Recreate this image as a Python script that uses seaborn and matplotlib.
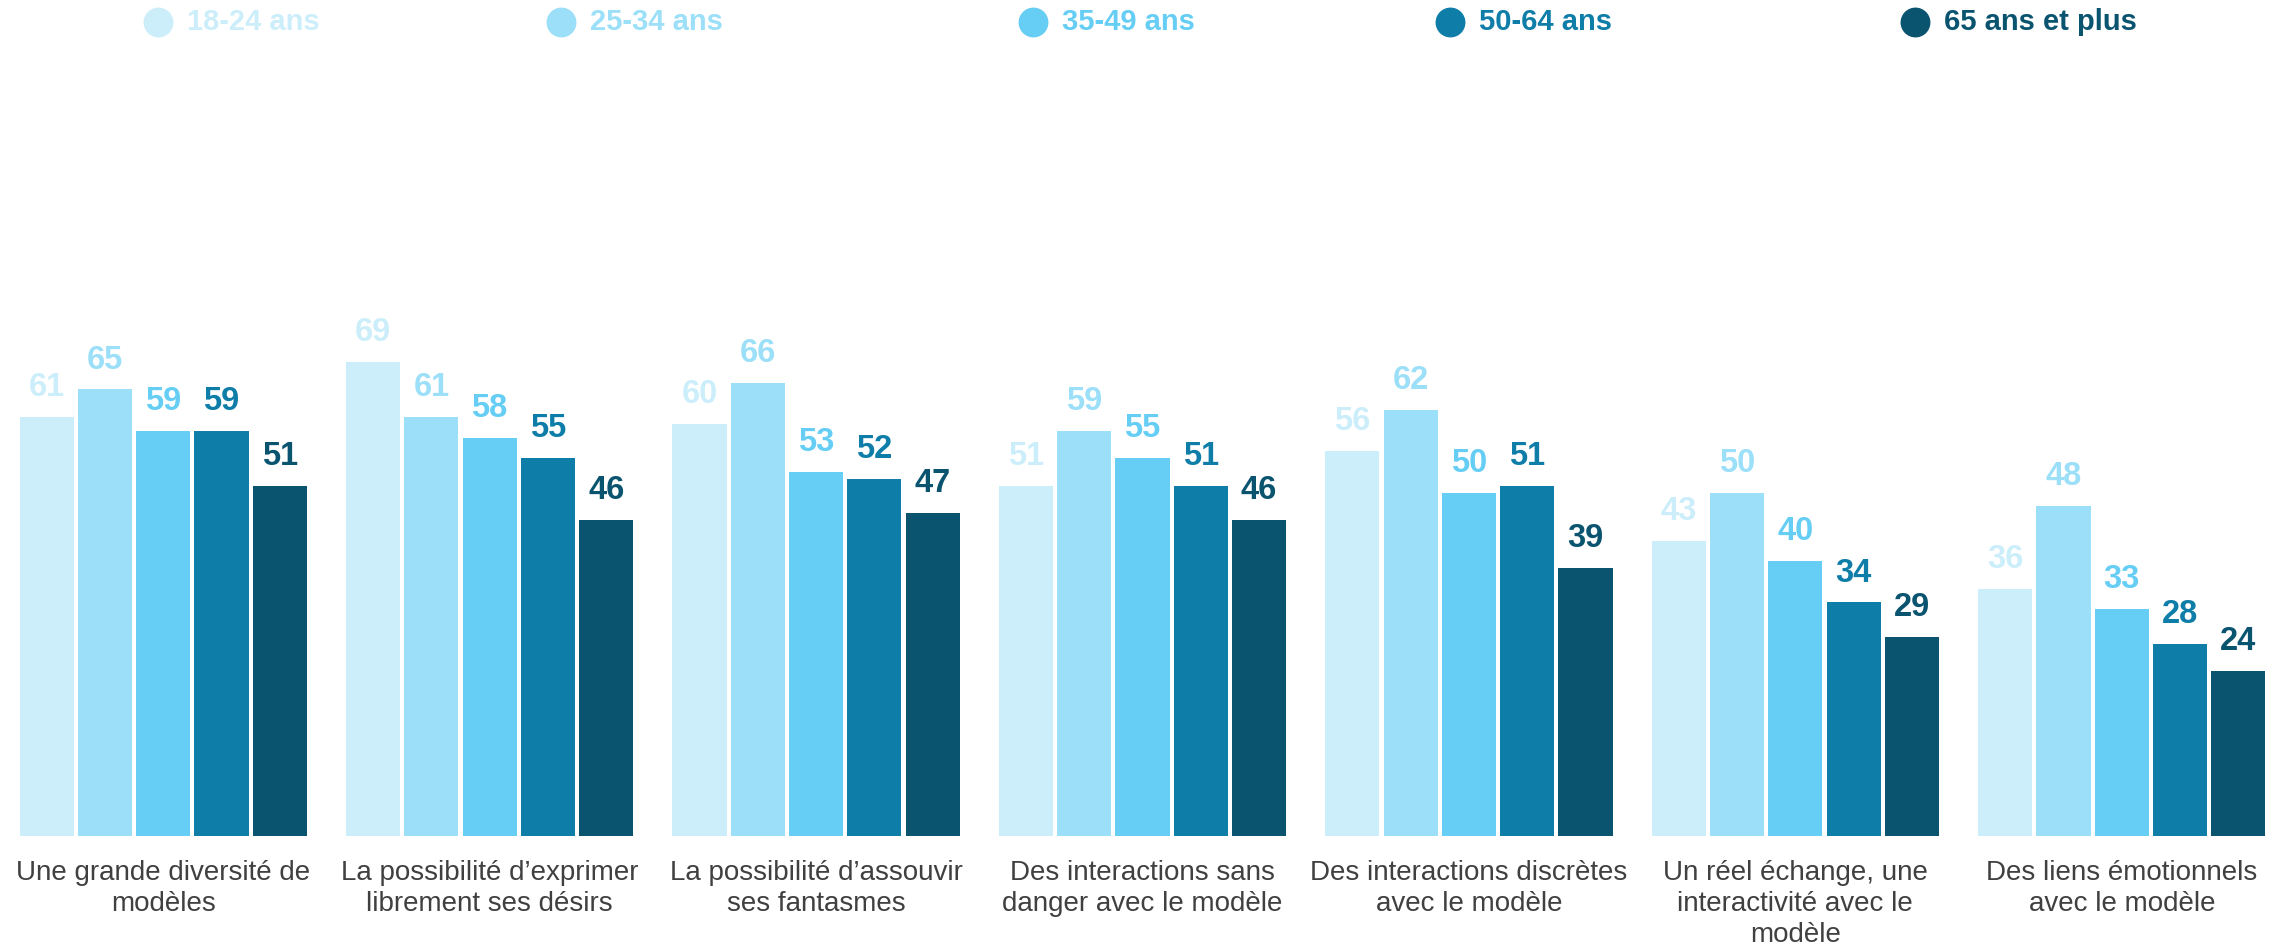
import pandas as pd
import matplotlib
matplotlib.use("Agg")
import matplotlib.pyplot as plt
import seaborn as sns

categories = [
    "Une grande diversité de\nmodèles",
    "La possibilité d’exprimer\nlibrement ses désirs",
    "La possibilité d’assouvir\nses fantasmes",
    "Des interactions sans\ndanger avec le modèle",
    "Des interactions discrètes\navec le modèle",
    "Un réel échange, une\ninteractivité avec le\nmodèle",
    "Des liens émotionnels\navec le modèle",
]
age_groups = ["18-24 ans", "25-34 ans", "35-49 ans", "50-64 ans", "65 ans et plus"]
colors = ["#CCEEFA", "#9BDFF8", "#66CEF4", "#0E7DA8", "#0A5470"]

v_18_24 = [61, 69, 60, 51, 56, 43, 36]
v_25_34 = [65, 61, 66, 59, 62, 50, 48]
v_35_49 = [59, 58, 53, 55, 50, 40, 33]
v_50_64 = [59, 55, 52, 51, 51, 34, 28]
v_65_plus = [51, 46, 47, 46, 39, 29, 24]

series = [v_18_24, v_25_34, v_35_49, v_50_64, v_65_plus]
rows = []
for grp, vals in zip(age_groups, series):
    for cat, v in zip(categories, vals):
        rows.append({"categorie": cat, "age": grp, "valeur": v})
df = pd.DataFrame(rows)

sns.set_style("white")
plt.rcParams["font.family"] = ["Liberation Sans", "DejaVu Sans"]

fig = plt.figure(figsize=(22.85, 9.47), dpi=100)
ax = fig.add_axes([0, 111 / 947, 1, 687 / 947])

sns.barplot(data=df, x="categorie", y="valeur", hue="age", hue_order=age_groups,
            order=categories, palette=colors, width=0.893, gap=0.07,
            linewidth=0, saturation=1, legend=False, ax=ax)

for cont, col in zip(ax.containers, colors):
    ax.bar_label(cont, fmt="%d", padding=10, color=col, fontsize=23.5, fontweight="bold")

ax.set_xlim(-0.5, 6.5)
ax.set_ylim(0, 100)
ax.set_xlabel("")
ax.set_ylabel("")
ax.set_yticks([])
ax.tick_params(axis="x", length=0, pad=17, labelsize=20, labelcolor="#404040")
for lbl in ax.get_xticklabels():
    lbl.set_linespacing(1.25)
sns.despine(ax=ax, left=True, bottom=True)

# legend drawn by hand to follow the uneven spacing of the original
legend_x = [158, 561, 1033, 1450, 1915]
for x, grp, col in zip(legend_x, age_groups, colors):
    fig.lines.append(plt.Line2D([x / 2285], [1 - 22 / 947], marker="o", markersize=20.5,
                                color=col, linestyle="", transform=fig.transFigure))
    fig.text((x + 29) / 2285, 1 - 22 / 947, grp, color=col, fontsize=21,
             fontweight="bold", va="center", ha="left")

fig.savefig("out.png", dpi=100)
